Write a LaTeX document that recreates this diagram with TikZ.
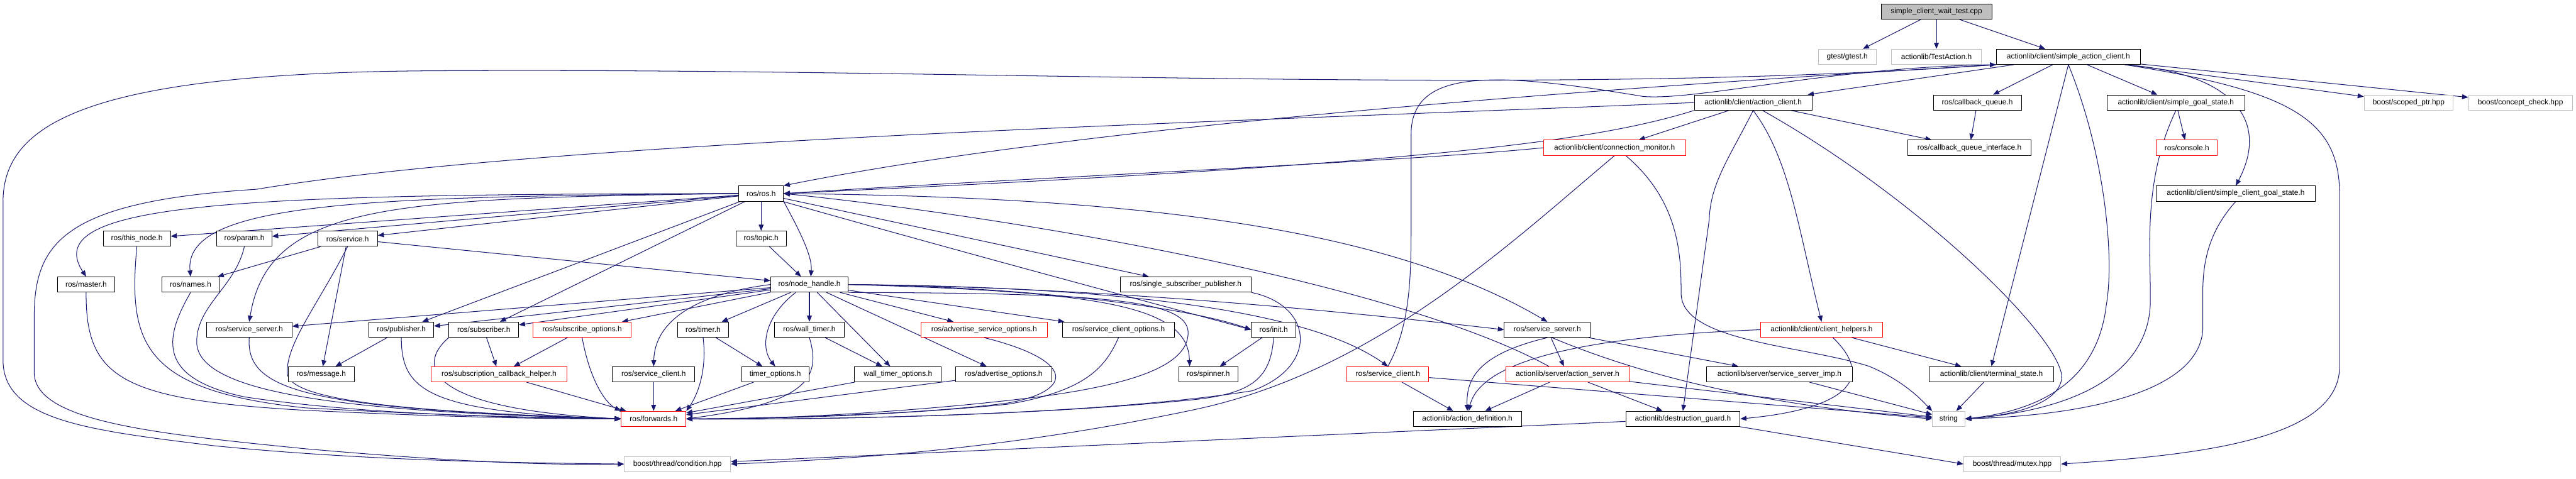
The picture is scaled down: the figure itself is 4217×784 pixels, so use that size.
\documentclass[tikz,border=0pt]{standalone}
\usepackage{fontspec}
\setmainfont{Liberation Sans}
\usepackage{xcolor}
\usepackage{tikz}
\usetikzlibrary{arrows.meta,backgrounds}

\definecolor{edgeblue}{HTML}{191970}
\definecolor{extgray}{HTML}{BFBFBF}

\begin{document}
\begin{tikzpicture}[
        x=0.3mm, y=-0.3mm,
        hdr/.style={rectangle, draw=black, fill=white, line width=0.8pt, minimum height=7.5mm, inner sep=1pt, font=\fontsize{10.5}{12}\selectfont},
        redhdr/.style={hdr, draw=red},
        exthdr/.style={hdr, draw=extgray},
        roothdr/.style={hdr, fill=extgray},
        inc/.style={->, >={Triangle[length=3mm, width=2.4mm]}, draw=edgeblue, line width=0.9pt}
    ]
    \useasboundingbox (0,0) rectangle (4217,784);

    % Test file and its direct includes
    \node[roothdr, minimum width=54.3mm] (root) at (3170,19) {simple\_client\_wait\_test.cpp};
    \node[exthdr, minimum width=28.5mm] (gtest) at (3024,93) {gtest/gtest.h};
    \node[exthdr, minimum width=44.1mm] (testaction) at (3170,93) {actionlib/TestAction.h};
    \node[hdr, minimum width=70.8mm] (sac) at (3386,93) {actionlib/client/simple\_action\_client.h};

    % actionlib client headers
    \node[hdr, minimum width=57.9mm] (actionclient) at (2870,168) {actionlib/client/action\_client.h};
    \node[hdr, minimum width=43.2mm] (cbqueue) at (3237,168) {ros/callback\_queue.h};
    \node[hdr, minimum width=67.8mm] (sgs) at (3562,168) {actionlib/client/simple\_goal\_state.h};
    \node[exthdr, minimum width=43.8mm] (scoped) at (3943,168) {boost/scoped\_ptr.hpp};
    \node[exthdr, minimum width=51mm] (concept) at (4126,168) {boost/concept\_check.hpp};
    \node[redhdr, minimum width=69.9mm] (connmon) at (2643,242) {actionlib/client/connection\_monitor.h};
    \node[hdr, minimum width=60.6mm] (cbqi) at (3224,242) {ros/callback\_queue\_interface.h};
    \node[redhdr, minimum width=30mm] (console) at (3580,242) {ros/console.h};
    \node[hdr, minimum width=78mm] (scgs) at (3660,317) {actionlib/client/simple\_client\_goal\_state.h};

    % roscpp headers
    \node[hdr, minimum width=21.9mm] (ros) at (1246,317) {ros/ros.h};
    \node[hdr, minimum width=33mm] (thisnode) at (224,391) {ros/this\_node.h};
    \node[hdr, minimum width=27mm] (param) at (400,391) {ros/param.h};
    \node[hdr, minimum width=29.4mm] (service) at (569,391) {ros/service.h};
    \node[hdr, minimum width=24.9mm] (topic) at (1246,391) {ros/topic.h};
    \node[hdr, minimum width=27.9mm] (master) at (141,466) {ros/master.h};
    \node[hdr, minimum width=28.2mm] (names) at (312,466) {ros/names.h};
    \node[hdr, minimum width=38.1mm] (nodehandle) at (1325,466) {ros/node\_handle.h};
    \node[hdr, minimum width=64.2mm] (ssp) at (1941,466) {ros/single\_subscriber\_publisher.h};

    \node[hdr, minimum width=42mm] (srvserverA) at (408,540) {ros/service\_server.h};
    \node[hdr, minimum width=31.8mm] (publisher) at (657,540) {ros/publisher.h};
    \node[hdr, minimum width=34.2mm] (subscriber) at (792,540) {ros/subscriber.h};
    \node[redhdr, minimum width=48.3mm] (subopts) at (953,540) {ros/subscribe\_options.h};
    \node[hdr, minimum width=25.2mm] (timer) at (1151,540) {ros/timer.h};
    \node[hdr, minimum width=34.5mm] (walltimer) at (1325,540) {ros/wall\_timer.h};
    \node[redhdr, minimum width=62.1mm] (advsrvopts) at (1611,540) {ros/advertise\_service\_options.h};
    \node[hdr, minimum width=54.9mm] (srvclientopts) at (1831,540) {ros/service\_client\_options.h};
    \node[hdr, minimum width=21.9mm] (init) at (2085,540) {ros/init.h};
    \node[hdr, minimum width=42.3mm] (srvserverB) at (2533,540) {ros/service\_server.h};
    \node[redhdr, minimum width=60mm] (clienthelpers) at (2982,540) {actionlib/client/client\_helpers.h};

    \node[hdr, minimum width=32.4mm] (message) at (526,613) {ros/message.h};
    \node[redhdr, minimum width=66.6mm] (subcbhelper) at (817,613) {ros/subscription\_callback\_helper.h};
    \node[hdr, minimum width=40.5mm] (srvclientA) at (1070,613) {ros/service\_client.h};
    \node[hdr, minimum width=33mm] (timeropts) at (1269,613) {timer\_options.h};
    \node[hdr, minimum width=42.6mm] (walltimeropts) at (1470,613) {wall\_timer\_options.h};
    \node[hdr, minimum width=47.1mm] (advopts) at (1643,613) {ros/advertise\_options.h};
    \node[hdr, minimum width=29.1mm] (spinner) at (1978,613) {ros/spinner.h};
    \node[redhdr, minimum width=40.2mm] (srvclientB) at (2272,613) {ros/service\_client.h};
    \node[redhdr, minimum width=60.6mm] (actionserver) at (2566,613) {actionlib/server/action\_server.h};
    \node[hdr, minimum width=71.4mm] (ssimp) at (2913,613) {actionlib/server/service\_server\_imp.h};
    \node[hdr, minimum width=61.2mm] (terminal) at (3260,613) {actionlib/client/terminal\_state.h};

    \node[redhdr, minimum width=31.8mm] (forwards) at (1070,686) {ros/forwards.h};
    \node[hdr, minimum width=53.1mm] (actiondef) at (2402,686) {actionlib/action\_definition.h};
    \node[hdr, minimum width=56.1mm] (destguard) at (2755,686) {actionlib/destruction\_guard.h};
    \node[exthdr, minimum width=15.9mm] (string) at (3190,686) {string};
    \node[exthdr, minimum width=52.2mm] (condition) at (1109,760) {boost/thread/condition.hpp};
    \node[exthdr, minimum width=47.7mm] (mutex) at (3294,760) {boost/thread/mutex.hpp};

    \begin{pgfonlayer}{background}
    % Edges from the test file
    \draw[inc] (root) -- (gtest);
    \draw[inc] (root) -- (testaction);
    \draw[inc] (root) -- (sac);

    % simple_action_client.h
    \draw[inc] (sac) -- (actionclient);
    \draw[inc] (sac) -- (cbqueue);
    \draw[inc] (sac) -- (sgs);
    \draw[inc] (sac) -- (scoped);
    \draw[inc] (sac) -- (concept);
    \draw[inc] (sac.south) -- (terminal.north);
    \draw[inc] (sac.south) .. controls (3445,250) and (3462,420) .. (3448,500) .. controls (3435,610) and (3360,670) .. (string.east);
    \draw[inc] (sac.-8) .. controls (3660,120) and (3715,200) .. (scgs.north);
    \draw[inc] (sac.-8) .. controls (3760,150) and (3830,200) .. (3830,320) -- (3830,600) .. controls (3830,720) and (3600,745) .. (mutex.east);
    \draw[inc] (sac.south west) .. controls (2700,140) and (1800,200) .. (ros.north east);
    \draw[inc] (sac.south west) .. controls (2500,160) and (1600,110) .. (700,116) .. controls (150,120) and (5,200) .. (5,330) -- (5,590) .. controls (5,690) and (150,705) .. (350,730) .. controls (600,755) and (850,758) .. (condition.west);

    % action_client.h
    \draw[inc] (actionclient) -- (connmon);
    \draw[inc] (actionclient) -- (cbqi);
    \draw[inc] (actionclient.south west) .. controls (2600,235) and (2300,270) .. (ros.east);
    \draw[inc] (actionclient.west) .. controls (2000,200) and (900,230) .. (420,310) .. controls (100,330) and (56,400) .. (56,520) -- (56,610) .. controls (56,690) and (250,710) .. (500,735) .. controls (750,757) and (900,762) .. (condition.west);
    \draw[inc] (actionclient.south) .. controls (2830,260) and (2800,300) .. (2798,360) -- (destguard.north);
    \draw[inc] (actionclient.south) .. controls (2930,260) and (2945,380) .. (clienthelpers.north);
    \draw[inc] (actionclient.-40) .. controls (3150,330) and (3380,560) .. (3375,620) .. controls (3370,660) and (3300,680) .. (string.east);

    % connection_monitor.h
    \draw[inc] (connmon.west) .. controls (2300,265) and (1700,290) .. (ros.east);
    \draw[inc] (connmon.south) .. controls (2470,400) and (2250,610) .. (1950,672) .. controls (1650,735) and (1400,752) .. (condition.east);
    \draw[inc] (connmon.-35) .. controls (2750,330) and (2752,420) .. (2752,480) .. controls (2752,560) and (2950,565) .. (3060,600) .. controls (3120,625) and (3150,660) .. (string.north west);

    % other client headers
    \draw[inc] (cbqueue) -- (cbqi);
    \draw[inc] (sgs) -- (console);
    \draw[inc] (sgs.south) .. controls (3505,300) and (3522,420) .. (3520,500) .. controls (3515,600) and (3420,670) .. (string.east);
    \draw[inc] (scgs.south) .. controls (3615,380) and (3606,430) .. (3606,480) -- (3606,540) .. controls (3600,640) and (3420,680) .. (string.east);

    % ros.h
    \draw[inc] (ros) -- (thisnode);
    \draw[inc] (ros) -- (param);
    \draw[inc] (ros) -- (service);
    \draw[inc] (ros.west) .. controls (400,318) and (60,330) .. (master.north);
    \draw[inc] (ros.west) .. controls (600,322) and (300,330) .. (names.north);
    \draw[inc] (ros.west) .. controls (650,325) and (440,330) .. (srvserverA.north);
    \draw[inc] (ros) -- (topic);
    \draw[inc] (ros.south east) .. controls (1310,380) and (1330,420) .. (nodehandle.80);
    \draw[inc] (topic) -- (nodehandle);
    \draw[inc] (ros) -- (publisher);
    \draw[inc] (ros) -- (subscriber);
    \draw[inc] (ros) -- (ssp);
    \draw[inc] (ros.-20) .. controls (1600,420) and (1900,500) .. (init.west);
    \draw[inc] (ros.east) .. controls (1800,322) and (2250,360) .. (srvserverB.north);

    % service.h and the small ros headers
    \draw[inc] (service) -- (names);
    \draw[inc] (service) -- (message);
    \draw[inc] (service) -- (nodehandle);
    \draw[inc] (service.south) .. controls (520,500) and (470,560) .. (470,610) .. controls (470,660) and (700,675) .. (forwards.west);
    \draw[inc] (thisnode.south) .. controls (210,560) and (230,640) .. (500,668) .. controls (750,682) and (900,684) .. (forwards.west);
    \draw[inc] (param.south) .. controls (385,470) and (322,500) .. (322,560) .. controls (322,650) and (600,675) .. (forwards.west);
    \draw[inc] (master.south) .. controls (140,620) and (200,655) .. (500,672) .. controls (750,684) and (900,686) .. (forwards.west);
    \draw[inc] (names.south) .. controls (265,560) and (262,620) .. (400,650) .. controls (600,680) and (850,684) .. (forwards.west);
    \draw[inc] (srvserverA.south) .. controls (402,640) and (500,670) .. (forwards.west);

    % publisher, subscriber and options
    \draw[inc] (publisher) -- (message);
    \draw[inc] (publisher.south) .. controls (657,640) and (700,675) .. (forwards.west);
    \draw[inc] (subscriber) -- (subcbhelper);
    \draw[inc] (subscriber.south west) .. controls (680,600) and (700,670) .. (forwards.west);
    \draw[inc] (subopts) -- (subcbhelper);
    \draw[inc] (subopts.south) .. controls (965,620) and (990,660) .. (forwards.north west);
    \draw[inc] (subcbhelper) -- (forwards);

    % node_handle.h
    \draw[inc] (nodehandle) -- (srvserverA);
    \draw[inc] (nodehandle) -- (publisher);
    \draw[inc] (nodehandle) -- (subscriber);
    \draw[inc] (nodehandle) -- (subopts);
    \draw[inc] (nodehandle.west) .. controls (1150,480) and (1072,520) .. (srvclientA.north);
    \draw[inc] (nodehandle) -- (timer);
    \draw[inc] (nodehandle.-150) .. controls (1250,520) and (1245,570) .. (timeropts.north);
    \draw[inc] (nodehandle) -- (walltimer);
    \draw[inc] (nodehandle) -- (walltimeropts);
    \draw[inc] (nodehandle) -- (advopts);
    \draw[inc] (nodehandle) -- (advsrvopts);
    \draw[inc] (nodehandle) -- (srvclientopts);
    \draw[inc] (nodehandle.east) .. controls (1700,470) and (1950,505) .. (init.west);
    \draw[inc] (nodehandle.east) .. controls (1800,478) and (1945,500) .. (spinner.157);
    \draw[inc] (nodehandle.south east) .. controls (1800,480) and (1945,490) .. (1945,545) .. controls (1945,600) and (1850,630) .. (1700,650) .. controls (1500,675) and (1250,688) .. (forwards.east);
    \draw[inc] (nodehandle.east) .. controls (1800,470) and (2200,510) .. (srvserverB.west);
    \draw[inc] (nodehandle.east) .. controls (1900,470) and (2160,520) .. (srvclientB.north);

    % timers and options
    \draw[inc] (timer) -- (timeropts);
    \draw[inc] (timer.south) .. controls (1158,610) and (1140,650) .. (forwards.north east);
    \draw[inc] (walltimer) -- (walltimeropts);
    \draw[inc] (walltimer.south) .. controls (1345,620) and (1320,660) .. (forwards.east);
    \draw[inc] (srvclientA) -- (forwards);
    \draw[inc] (timeropts) -- (forwards);
    \draw[inc] (walltimeropts) -- (forwards);
    \draw[inc] (advopts) -- (forwards);
    \draw[inc] (advsrvopts.south) .. controls (1760,590) and (1760,640) .. (1650,660) .. controls (1500,680) and (1250,685) .. (forwards.east);
    \draw[inc] (srvclientopts.south) .. controls (1810,600) and (1780,640) .. (1650,662) .. controls (1450,682) and (1250,686) .. (forwards.east);
    \draw[inc] (ssp.south east) .. controls (2150,500) and (2160,600) .. (2050,640) .. controls (1800,680) and (1350,688) .. (forwards.east);
    \draw[inc] (init) -- (spinner);
    \draw[inc] (init.south) .. controls (2080,620) and (2050,645) .. (1950,655) .. controls (1700,680) and (1350,688) .. (forwards.east);

    % service client / server and actionlib server side
    \draw[inc] (srvclientB.north) .. controls (2305,540) and (2310,470) .. (2310,380) -- (2310,220) .. controls (2310,110) and (2450,118) .. (2690,158) .. controls (2780,165) and (3000,110) .. (sac.south west);
    \draw[inc] (srvclientB) -- (actiondef);
    \draw[inc] (srvclientB) -- (string);
    \draw[inc] (srvserverB.south) .. controls (2420,580) and (2400,620) .. (actiondef.north);
    \draw[inc] (srvserverB) -- (actionserver);
    \draw[inc] (srvserverB) -- (ssimp);
    \draw[inc] (srvserverB.-60) .. controls (2700,620) and (2900,665) .. (string.west);
    \draw[inc] (actionserver.157) .. controls (2300,470) and (1700,360) .. (ros.east);
    \draw[inc] (actionserver) -- (actiondef);
    \draw[inc] (actionserver) -- (destguard);
    \draw[inc] (actionserver) -- (string);
    \draw[inc] (ssimp) -- (string);
    \draw[inc] (clienthelpers.west) .. controls (2620,550) and (2425,585) .. (actiondef.80);
    \draw[inc] (clienthelpers.-35) .. controls (3080,630) and (3000,672) .. (destguard.east);
    \draw[inc] (clienthelpers) -- (terminal);
    \draw[inc] (terminal) -- (string);
    \draw[inc] (destguard) -- (condition);
    \draw[inc] (destguard.south east) -- (mutex.west);
    \end{pgfonlayer}

\end{tikzpicture}
\end{document}
